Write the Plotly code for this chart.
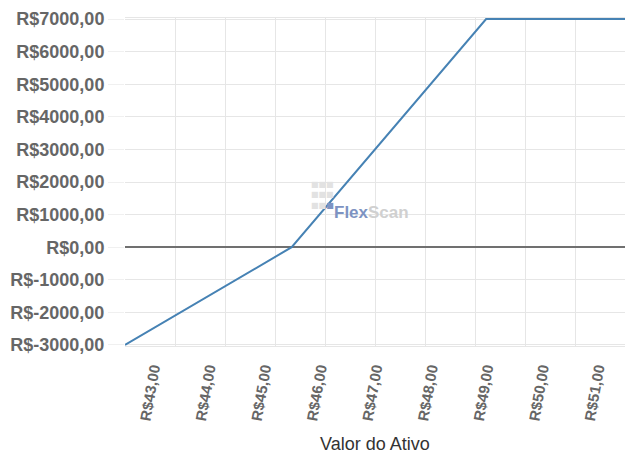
import plotly.graph_objects as go

# Data: asset price vs. result (R$)
asset_price = [42.5, 45.5, 49.0, 51.5]
result = [-3000, 0, 7000, 7000]

y_ticks = [-3000, -2000, -1000, 0, 1000, 2000, 3000, 4000, 5000, 6000, 7000]
x_ticks = [43, 44, 45, 46, 47, 48, 49, 50, 51]

y_text = ["R${},00".format(v) for v in y_ticks]
x_text = ["R${},00".format(v) for v in x_ticks]

grid = "#e6e6e6"
lab = "#666666"

fig = go.Figure()
fig.add_trace(go.Scatter(x=asset_price, y=result, mode="lines",
                         line=dict(color="#4682B4", width=2),
                         hoverinfo="skip", showlegend=False))

# page body has an 8px default margin, so the figure is sized/offset to compensate;
# y range padded ~1px each side so the line at the extremes isn't clipped
fig.update_layout(
    width=633, height=447,
    margin=dict(l=117, r=16, t=10, b=109),
    paper_bgcolor="white", plot_bgcolor="white",
    font=dict(family="Liberation Sans, Arial, sans-serif"),
    xaxis=dict(
        range=[42.5, 51.5], automargin=False,
        tickmode="array", tickvals=x_ticks, ticktext=x_text,
        tickangle=-80,
        tickfont=dict(size=15, color=lab, family="Liberation Sans, Arial", weight="bold"),
        showgrid=False, zeroline=False,
        ticks="", ticklabelstandoff=7,
        showline=True, mirror=True, linecolor=grid, linewidth=1,
        layer="below traces",
        minor=dict(tick0=42.5, dtick=0.9, showgrid=True, gridcolor=grid, gridwidth=1),
    ),
    yaxis=dict(
        range=[-3031, 7031], automargin=False,
        tickmode="array", tickvals=y_ticks, ticktext=y_text,
        tickfont=dict(size=18, color=lab, family="Liberation Sans, Arial", weight="bold"),
        showgrid=True, gridcolor=grid, gridwidth=1,
        zeroline=True, zerolinecolor="#707070", zerolinewidth=1.5,
        ticks="outside", ticklen=16, tickcolor="#f0f0f0",
        showline=False, layer="below traces",
    ),
)

fig.add_annotation(text="Valor do Ativo", xref="paper", yref="paper",
                   x=0.5, y=0, yshift=-110, showarrow=False,
                   font=dict(size=18, color="#333333", family="Liberation Sans, Arial"))

# Watermark
fig.add_annotation(text="<b><span style='color:#7d93c2'>Flex</span><span style='color:#d0d0d0'>Scan</span></b>",
                   xref="paper", yref="paper", x=0.414, y=0.408,
                   xanchor="left", yanchor="middle", showarrow=False,
                   font=dict(size=17, family="Liberation Sans, Arial"))
fig.add_annotation(text="■■■<br>■■■<br>■■<span style='color:#7d93c2'>■</span>",
                   xref="paper", yref="paper", x=0.394, y=0.46,
                   xanchor="center", yanchor="middle", showarrow=False,
                   font=dict(size=8, color="#e2e2e2", family="DejaVu Sans"))

fig.write_html("out.html")
